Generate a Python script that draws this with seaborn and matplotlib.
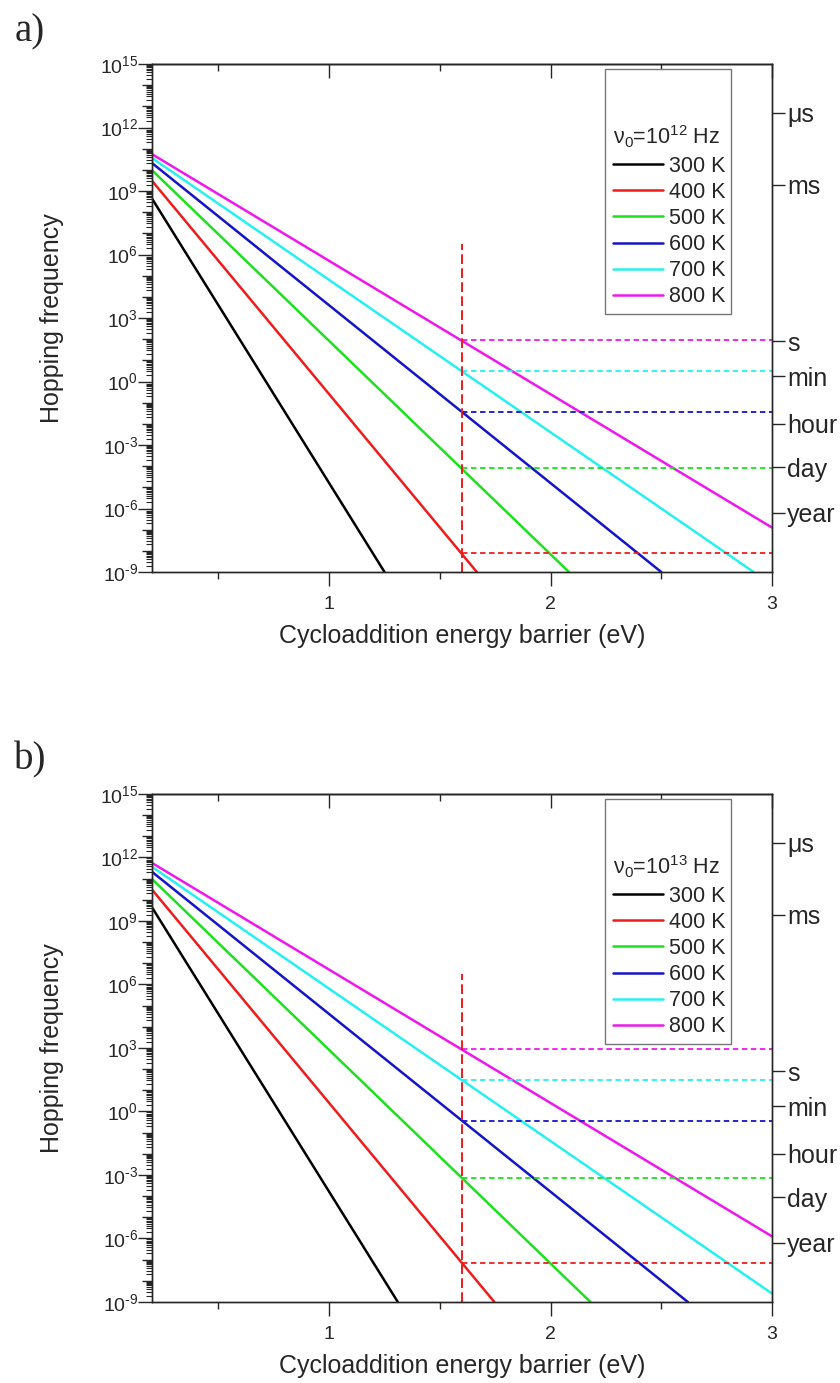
import numpy as np
import pandas as pd
import matplotlib
matplotlib.use("Agg")
import matplotlib.pyplot as plt
import seaborn as sns
from matplotlib.ticker import FixedLocator, LogLocator, NullLocator, FuncFormatter
from matplotlib.patches import Rectangle

# ---------------- data ----------------
temps = ["300 K", "400 K", "500 K", "600 K", "700 K", "800 K"]
colors = ["#000000", "#ee1c1c", "#1ee01e", "#1414c8", "#28f0f0", "#ee18ee"]

energy_start = [0.2, 0.2, 0.2, 0.2, 0.2, 0.2]

# panel a (nu0 = 1e12 Hz): log10 of hopping frequency at line ends
logf_start_a = [8.64, 9.48, 9.98, 10.32, 10.56, 10.74]
energy_end_a = [1.25, 1.667, 2.083, 2.50, 2.917, 3.0]
logf_end_a = [-9.0, -9.0, -9.0, -9.0, -9.0, -6.9]

# panel b (nu0 = 1e13 Hz)
logf_start_b = [9.64, 10.48, 10.98, 11.32, 11.56, 11.74]
energy_end_b = [1.31, 1.746, 2.18, 2.62, 3.0, 3.0]
logf_end_b = [-9.0, -9.0, -9.0, -9.0, -8.6, -5.9]

# dashed guide levels at the reference barrier (400 K ... 800 K)
dash_temps = temps[1:]
dash_colors = colors[1:]
dash_level_a = [-8.1, -4.1, -1.45, 0.5, 1.95]
dash_level_b = [-7.15, -3.13, -0.44, 1.5, 2.95]
barrier_ref = 1.6
vline_top = 6.5
e_max = 3.0

nu0_titles = ["ν$_0$=10$^{12}$ Hz", "ν$_0$=10$^{13}$ Hz"]
panel_tags = ["a)", "b)"]

time_labels = ["μs", "ms", "s", "min", "hour", "day", "year"]
time_levels = [12.7, 9.3, 1.9, 0.25, -2.0, -4.05, -6.2]

x_major = [1, 2, 3]
x_minor = [0.5, 1.5, 2.5]

# ---------------- style ----------------
sns.set_style("ticks")
plt.rcParams["font.family"] = ["Liberation Sans", "DejaVu Sans"]
plt.rcParams["mathtext.fontset"] = "custom"
plt.rcParams["mathtext.rm"] = "Liberation Sans"
plt.rcParams["mathtext.it"] = "Liberation Sans:italic"
plt.rcParams["mathtext.default"] = "regular"
plt.rcParams["axes.unicode_minus"] = False
plt.rcParams["axes.linewidth"] = 1.0

fig = plt.figure(figsize=(8.4, 13.83), dpi=100)
ax_rects = [[0.181, 0.5864, 0.738, 0.3673], [0.181, 0.0586, 0.738, 0.3673]]

panels = [
    (logf_start_a, energy_end_a, logf_end_a, dash_level_a),
    (logf_start_b, energy_end_b, logf_end_b, dash_level_b),
]


def ylab(v, pos):
    k = int(round(np.log10(v)))
    if k % 3 != 0:
        return ""
    if k < 0:
        return r"$\mathdefault{10^{\text{-}%d}}$" % (-k)
    return r"$\mathdefault{10^{%d}}$" % k


for i, (ls, ee, le, dl) in enumerate(panels):
    ax = fig.add_axes(ax_rects[i])
    rows = []
    for t, e0, l0, e1, l1 in zip(temps, energy_start, ls, ee, le):
        rows.append({"E": e0, "f": 10.0 ** l0, "T": t})
        rows.append({"E": e1, "f": 10.0 ** l1, "T": t})
    df = pd.DataFrame(rows)
    sns.lineplot(data=df, x="E", y="f", hue="T", hue_order=temps,
                 palette=colors, estimator=None, sort=False, lw=1.8,
                 ax=ax, legend=True)
    handles, labels = ax.get_legend_handles_labels()
    ax.get_legend().remove()

    ax.set_yscale("log")
    ax.set_xlim(0.2, 3.0)
    ax.set_ylim(1e-9, 1e15)

    # horizontal dashed guides
    ax.hlines([10.0 ** v for v in dl], barrier_ref, e_max, colors=dash_colors,
              linestyles=[(0, (3, 2))], lw=1.3, zorder=2)
    # vertical dashed line at reference barrier
    ax.vlines(barrier_ref, 1e-9, 10.0 ** vline_top, colors="#ee1c1c",
              linestyles=[(0, (5, 2.2))], lw=1.4, zorder=2)

    # x ticks
    ax.xaxis.set_major_locator(FixedLocator(x_major))
    ax.xaxis.set_minor_locator(FixedLocator(x_minor))
    ax.tick_params(axis="x", which="major", direction="out", length=10,
                   width=1, labelsize=14, pad=7)
    ax.tick_params(axis="x", which="minor", direction="out", length=5, width=1)
    top = ax.secondary_xaxis("top")
    top.xaxis.set_major_locator(FixedLocator(x_major))
    top.xaxis.set_minor_locator(FixedLocator(x_minor))
    top.tick_params(axis="x", which="major", direction="in", length=10,
                    width=1, labeltop=False)
    top.tick_params(axis="x", which="minor", direction="in", length=5, width=1)

    # y ticks
    decades = [10.0 ** k for k in range(-9, 16)]
    ax.yaxis.set_major_locator(FixedLocator(decades))
    ax.yaxis.set_major_formatter(FuncFormatter(ylab))
    ax.yaxis.set_minor_locator(LogLocator(base=10, subs=np.arange(2, 10),
                                          numticks=200))
    ax.tick_params(axis="y", which="major", direction="out", length=7,
                   width=1, labelsize=14, pad=3)
    ax.tick_params(axis="y", which="minor", direction="out", length=4,
                   width=0.8)
    for tk, v in zip(ax.yaxis.get_major_ticks(len(decades)), decades):
        if int(round(np.log10(v))) % 3 == 0:
            tk.tick1line.set_markersize(10)

    ax.set_xlabel("Cycloaddition energy barrier (eV)", fontsize=18)
    ax.set_ylabel("Hopping frequency", fontsize=18)
    ax.xaxis.set_label_coords(0.5, -0.102)
    ax.yaxis.set_label_coords(-0.142, 0.5)

    # right time axis
    ax2 = ax.twinx()
    ax2.set_yscale("log")
    ax2.set_ylim(1e-9, 1e15)
    ax2.yaxis.set_major_locator(FixedLocator([10.0 ** v for v in time_levels]))
    ax2.yaxis.set_minor_locator(NullLocator())
    ax2.set_yticklabels(time_labels)
    ax2.tick_params(axis="y", which="major", direction="out", length=9,
                    width=1, labelsize=18, pad=2)
    ax2.grid(False)

    # legend frame + legend
    ax.add_patch(Rectangle((0.7306, 0.508), 0.2033, 0.482,
                           transform=ax.transAxes, facecolor="white",
                           edgecolor="#777777", lw=1.0, zorder=3))
    leg = ax.legend(handles, labels, title=nu0_titles[i], loc="upper left",
                    bbox_to_anchor=(0.744, 0.882), frameon=False,
                    fontsize=15.5, title_fontsize=15.5, handlelength=2.3,
                    handletextpad=0.3, labelspacing=0.24, borderpad=0,
                    borderaxespad=0, alignment="left")
    leg.set_zorder(4)
    for ln in leg.get_lines():
        ln.set_linewidth(1.8)

    fig.text(0.036, [0.977, 0.4505][i], panel_tags[i], fontsize=28,
             family=["Liberation Serif", "DejaVu Serif"], ha="center",
             va="center")

fig.savefig("out.png", dpi=100)
